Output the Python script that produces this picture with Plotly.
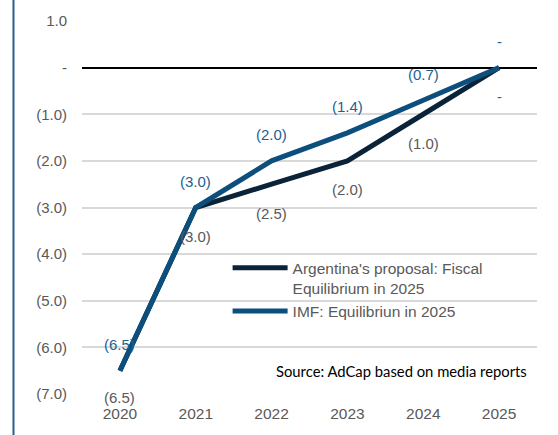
import plotly.graph_objects as go

years = ["2020", "2021", "2022", "2023", "2024", "2025"]
argentina = [-6.5, -3.0, -2.5, -2.0, -1.0, 0.0]
imf = [-6.5, -3.0, -2.0, -1.4, -0.7, 0.0]
ytick_vals = [1, 0, -1, -2, -3, -4, -5, -6, -7]
ytick_text = ["1.0", "-", "(1.0)", "(2.0)", "(3.0)", "(4.0)", "(5.0)", "(6.0)", "(7.0)"]
name_arg = "Argentina's proposal: Fiscal<br>Equilibrium in 2025"
name_imf = "IMF: Equilibriun in 2025"
source = "Source: AdCap based on media reports"

C_ARG = "#0b2338"
C_IMF = "#0c4e7c"
C_LBL_IMF = "#1d5f93"
GRAY = "#595959"
FONT = "Liberation Sans, Arial, sans-serif"


def fmt(v):
    if v == 0:
        return "-"
    return "(%.1f)" % abs(v) if v < 0 else "%.1f" % v


fig = go.Figure()
fig.add_trace(go.Scatter(x=years, y=argentina, mode="lines", name=name_arg,
                         line=dict(color=C_ARG, width=5)))
fig.add_trace(go.Scatter(x=years, y=imf, mode="lines", name=name_imf,
                         line=dict(color=C_IMF, width=5)))

ann = []
for i, v in enumerate(argentina):
    ann.append(dict(x=i, y=v, text=fmt(v), showarrow=False, yshift=-29 if i else -27,
                    xanchor="center", yanchor="middle",
                    font=dict(family=FONT, size=15, color=GRAY)))
for i, v in enumerate(imf):
    ann.append(dict(x=i, y=v, text=fmt(v), showarrow=False, yshift=26,
                    xanchor="center", yanchor="middle",
                    font=dict(family=FONT, size=15, color=C_LBL_IMF)))
ann.append(dict(x=(529 - 82) / 455, y=(394 - 371) / 373, xref="paper", yref="paper",
                xanchor="right", yanchor="middle",
                text=source, showarrow=False,
                font=dict(family="Lato, sans-serif", size=14.8, color="#000000")))

fig.update_layout(
    width=558, height=435,
    margin=dict(l=82, r=21, t=21, b=41),
    paper_bgcolor="white", plot_bgcolor="white",
    font=dict(family=FONT, size=15, color=GRAY),
    annotations=ann,
    showlegend=True,
    legend=dict(x=0.32, y=0.383, xanchor="left", yanchor="top",
                bgcolor="rgba(0,0,0,0)", font=dict(family=FONT, size=15.5, color=GRAY),
                valign="top", itemwidth=55, tracegroupgap=0),
    xaxis=dict(type="category", range=[-0.5, 5.5], showgrid=False, showline=False, ticks="",
               ticklabelstandoff=8,
               tickfont=dict(family=FONT, size=15.5, color=GRAY)),
    yaxis=dict(range=[-7, 1], tickvals=ytick_vals, ticktext=ytick_text,
               showgrid=True, gridcolor="#d9d9d9", gridwidth=1.5,
               zeroline=True, zerolinecolor="#000000", zerolinewidth=1.5,
               showline=False, ticks="", ticklabelstandoff=14,
               tickfont=dict(family=FONT, size=15, color=GRAY)),
    shapes=[dict(type="line", xref="paper", yref="paper",
                 x0=(13.5 - 82) / 455, x1=(13.5 - 82) / 455,
                 y0=-0.2, y1=1.2, line=dict(color="#2c5e8e", width=2))],
)

fig.write_html("out.html")
